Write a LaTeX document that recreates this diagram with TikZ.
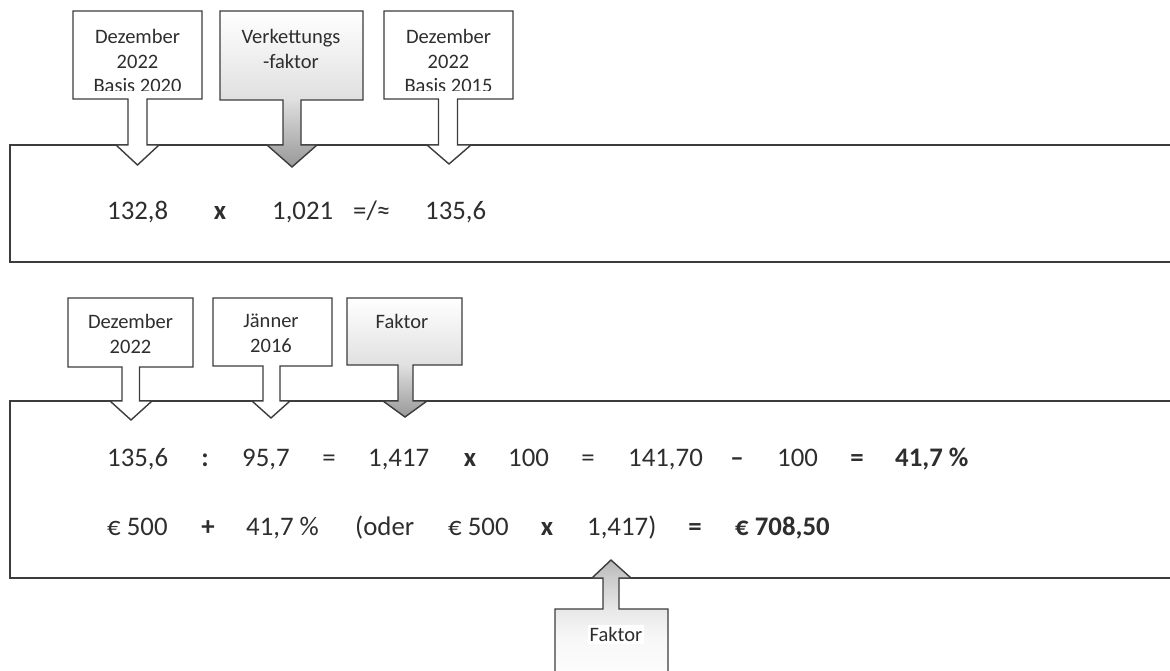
\documentclass[tikz,border=0pt]{standalone}
\usepackage{fontspec}
\setmainfont{Carlito}
\definecolor{ink}{HTML}{2E2E2E}
\definecolor{edge}{HTML}{3C3C3C}
% soft fades for the highlighted callouts (the path fills the 25bp..75bp band)
\pgfdeclareverticalshading{calloutdown}{100bp}{color(0bp)=(black!40); color(25bp)=(black!40);
  color(33bp)=(black!30); color(47bp)=(black!12); color(75bp)=(white); color(100bp)=(white)}
\pgfdeclareverticalshading{calloutup}{100bp}{color(0bp)=(white); color(25bp)=(white);
  color(45bp)=(black!3); color(56bp)=(black!9); color(68bp)=(black!20); color(75bp)=(black!28);
  color(100bp)=(black!28)}
\tikzset{
  panel/.style={draw=edge, line width=1.7pt, fill=white},
  callout/.style={draw=edge, line width=1.4pt, fill=white, line join=miter},
  shadedcallout/.style={callout, shading=calloutdown},
  shadedup/.style={callout, shading=calloutup},
  calc/.style={font=\fontsize{26.8}{32}\selectfont, text=ink, inner sep=0pt, anchor=base west},
  calcb/.style={calc, font=\fontsize{26.8}{32}\selectfont\bfseries},
  sym/.style={calcb, anchor=base},
  symn/.style={calc, anchor=base},
  label/.style={font=\fontsize{20.5}{24.7}\selectfont, text=ink, inner sep=0pt, align=center, anchor=north},
}
\begin{document}
\begin{tikzpicture}[x=1pt,y=-1pt]
\useasboundingbox (0,0) rectangle (1170,671);
\clip (0,0) rectangle (1170,671);

% ---------- first calculation: chaining the two bases ----------
\draw[panel] (10,145) rectangle (1190,262);

\draw[callout] (73,11) -- (202,11) -- (202,99) -- (147,99) -- (147,145) -- (159,145)
  -- (137.5,165) -- (116,145) -- (128,145) -- (128,99) -- (73,99) -- cycle;
\draw[shadedcallout] (220,11) -- (363,11) -- (363,100) -- (301,100) -- (301,145) -- (317,145)
  -- (292,167) -- (267,145) -- (283,145) -- (283,100) -- (220,100) -- cycle;
\draw[callout] (384,11) -- (513,11) -- (513,99) -- (457.5,99) -- (457.5,145) -- (471,145)
  -- (449,164) -- (427,145) -- (438.5,145) -- (438.5,99) -- (384,99) -- cycle;

% the third line sits partly below the text frame and is cut off there
\begin{scope}
  \clip (74,12) rectangle (201,91);
  \node[label] (dez20) at (137.5,29) {Dezember\\2022\\Basis 2020};
\end{scope}
\node[label] (vf) at (291,29) {Verkettungs\\-faktor};
\begin{scope}
  \clip (385,12) rectangle (512,91);
  \node[label] (dez15) at (448.5,29) {Dezember\\2022\\Basis 2015};
\end{scope}

\node[calc] (a1) at (107,219.5) {132,8};
\node[sym]  (a2) at (220,219.5) {x};
\node[calc] (a3) at (272,219.5) {1,021};
\node[calc] (a4) at (353,219.5) {=/≈};
\node[calc] (a5) at (425,219.5) {135,6};

% ---------- second calculation: change since January 2016 ----------
\draw[panel] (10,401) rectangle (1190,578);

\draw[callout] (68,298) -- (193,298) -- (193,367) -- (139.5,367) -- (139.5,401) -- (152,401)
  -- (131,420) -- (110,401) -- (122,401) -- (122,367) -- (68,367) -- cycle;
\draw[callout] (213,298) -- (332,298) -- (332,366) -- (280,366) -- (280,401) -- (290,401)
  -- (271,418) -- (252,401) -- (263,401) -- (263,366) -- (213,366) -- cycle;
\draw[shadedcallout] (347,298) -- (462,298) -- (462,365) -- (413,365) -- (413,401) -- (427,401)
  -- (405,417) -- (383,401) -- (398,401) -- (398,365) -- (347,365) -- cycle;
\draw[shadedup] (555,690) -- (555,609) -- (603,609) -- (603,578) -- (592,578)
  -- (611,560) -- (631,578) -- (619,578) -- (619,609) -- (668,609) -- (668,690) -- cycle;

\node[label] (dez22) at (130.5,314) {Dezember\\2022};
\node[label] (jan16) at (271,314) {Jänner\\2016};
\node[label, anchor=base] (fak1) at (402,328.5) {Faktor};
\node[label, anchor=base, fill=white, inner sep=2pt] (fak2) at (616,641.5) {Faktor};

% first row
\node[calc] (b1)  at (107,466.5) {135,6};
\node[sym]  (b2)  at (205,466.5) {:};
\node[calc] (b3)  at (242,466.5) {95,7};
\node[symn] (b4)  at (329,466.5) {=};
\node[calc] (b5)  at (368,466.5) {1,417};
\node[sym]  (b6)  at (470,466.5) {x};
\node[calc] (b7)  at (508,466.5) {100};
\node[symn] (b8)  at (588,466.5) {=};
\node[calc] (b9)  at (628,466.5) {141,70};
\node[sym]  (b10) at (737,466.5) {–};
\node[calc] (b11) at (777,466.5) {100};
\node[sym]  (b12) at (857,466.5) {=};
\node[calcb](b13) at (895,466.5) {41,7 \%};

% second row
\node[calc] (c1) at (107,535.5) {€ 500};
\node[sym]  (c2) at (208,535.5) {+};
\node[calc] (c3) at (246,535.5) {41,7 \%};
\node[calc] (c4) at (355,535.5) {(oder};
\node[calc] (c5) at (448,535.5) {€ 500};
\node[sym]  (c6) at (547,535.5) {x};
\node[calc] (c7) at (587,535.5) {1,417)};
\node[sym]  (c8) at (695,535.5) {=};
\node[calcb](c9) at (735,535.5) {€ 708,50};
\end{tikzpicture}
\end{document}
